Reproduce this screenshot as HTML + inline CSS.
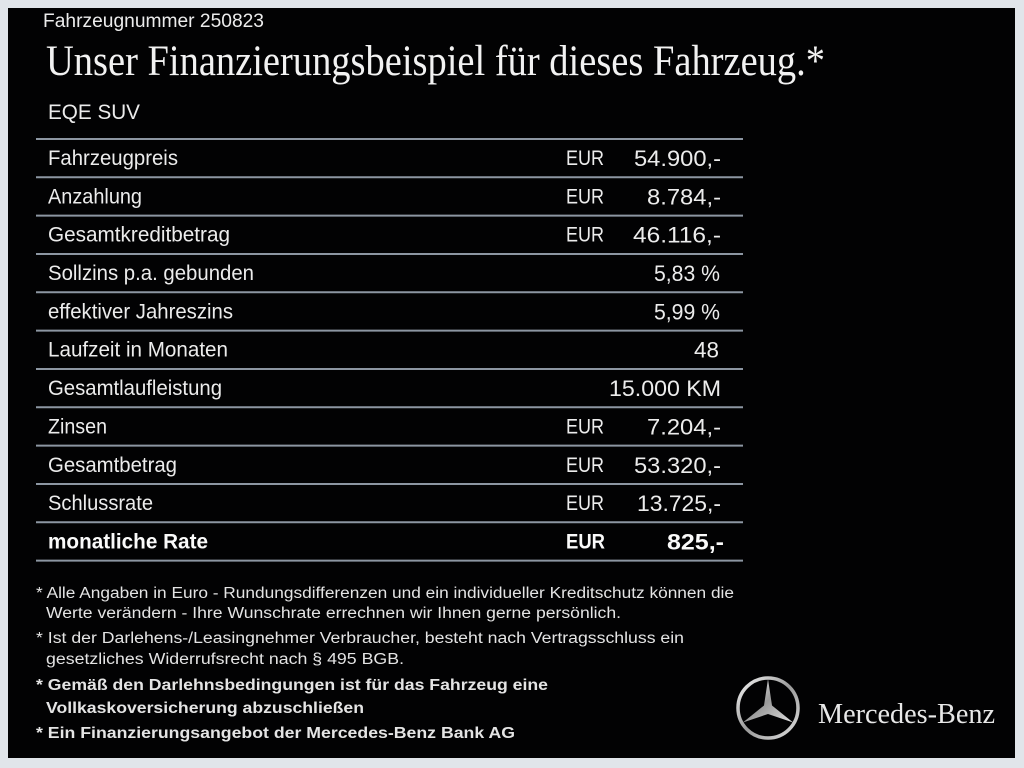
<!DOCTYPE html>
<html><head><meta charset="utf-8"><style>
html,body{margin:0;padding:0;background:#dfe3e8;}
svg{display:block;}
</style></head><body>
<svg width="1024" height="768" viewBox="0 0 1024 768" xmlns="http://www.w3.org/2000/svg">
<defs>
<linearGradient id="silver" x1="0" y1="0" x2="1" y2="1">
<stop offset="0" stop-color="#f4f4f4"/><stop offset="0.5" stop-color="#9a9a9a"/><stop offset="1" stop-color="#e0e0e0"/>
</linearGradient>
</defs>
<rect x="0" y="0" width="1024" height="768" fill="#e1e5ea"/>
<rect x="8" y="8" width="1007" height="750" fill="#020203"/>
<g font-family="Liberation Sans, sans-serif" fill="#ececec">
<text x="43" y="27" font-size="19" textLength="221" lengthAdjust="spacingAndGlyphs">Fahrzeugnummer 250823</text>
<text x="46" y="75" font-family="Liberation Serif, serif" font-size="43" fill="#f2f2f2" textLength="779" lengthAdjust="spacingAndGlyphs">Unser Finanzierungsbeispiel für dieses Fahrzeug.*</text>
<text x="48" y="119" font-size="21" textLength="92" lengthAdjust="spacingAndGlyphs">EQE SUV</text>
</g>
<g stroke="#8c96a2" stroke-width="2">
<line x1="36" y1="139" x2="743" y2="139"/>
<line x1="36" y1="177.3" x2="743" y2="177.3"/>
<line x1="36" y1="215.6" x2="743" y2="215.6"/>
<line x1="36" y1="254" x2="743" y2="254"/>
<line x1="36" y1="292.3" x2="743" y2="292.3"/>
<line x1="36" y1="330.6" x2="743" y2="330.6"/>
<line x1="36" y1="369" x2="743" y2="369"/>
<line x1="36" y1="407.3" x2="743" y2="407.3"/>
<line x1="36" y1="445.6" x2="743" y2="445.6"/>
<line x1="36" y1="484" x2="743" y2="484"/>
<line x1="36" y1="522.3" x2="743" y2="522.3"/>
<line x1="36" y1="560.6" x2="743" y2="560.6"/>
</g>
<g font-family="Liberation Sans, sans-serif" font-size="21" fill="#ececec">
<text x="48" y="165" textLength="130" lengthAdjust="spacingAndGlyphs">Fahrzeugpreis</text>
<text x="48" y="203.3" textLength="94" lengthAdjust="spacingAndGlyphs">Anzahlung</text>
<text x="48" y="241.7" textLength="182" lengthAdjust="spacingAndGlyphs">Gesamtkreditbetrag</text>
<text x="48" y="280" textLength="206" lengthAdjust="spacingAndGlyphs">Sollzins p.a. gebunden</text>
<text x="48" y="318.4" textLength="185" lengthAdjust="spacingAndGlyphs">effektiver Jahreszins</text>
<text x="48" y="356.7" textLength="180" lengthAdjust="spacingAndGlyphs">Laufzeit in Monaten</text>
<text x="48" y="395" textLength="174" lengthAdjust="spacingAndGlyphs">Gesamtlaufleistung</text>
<text x="48" y="433.4" textLength="59" lengthAdjust="spacingAndGlyphs">Zinsen</text>
<text x="48" y="471.8" textLength="129" lengthAdjust="spacingAndGlyphs">Gesamtbetrag</text>
<text x="48" y="510.1" textLength="105" lengthAdjust="spacingAndGlyphs">Schlussrate</text>
<text x="48" y="548.5" font-weight="bold" fill="#fafafa" textLength="160" lengthAdjust="spacingAndGlyphs">monatliche Rate</text>

<text x="566" y="165" textLength="38" lengthAdjust="spacingAndGlyphs">EUR</text>
<text x="566" y="203.3" textLength="38" lengthAdjust="spacingAndGlyphs">EUR</text>
<text x="566" y="241.7" textLength="38" lengthAdjust="spacingAndGlyphs">EUR</text>
<text x="566" y="433.4" textLength="38" lengthAdjust="spacingAndGlyphs">EUR</text>
<text x="566" y="471.8" textLength="38" lengthAdjust="spacingAndGlyphs">EUR</text>
<text x="566" y="510.1" textLength="38" lengthAdjust="spacingAndGlyphs">EUR</text>
<text x="566" y="548.5" font-weight="bold" fill="#fafafa" textLength="39" lengthAdjust="spacingAndGlyphs">EUR</text>
</g>
<g font-family="Liberation Sans, sans-serif" font-size="22.5" fill="#ececec">
<text x="634" y="166" textLength="87" lengthAdjust="spacingAndGlyphs">54.900,-</text>
<text x="647" y="204.3" textLength="74" lengthAdjust="spacingAndGlyphs">8.784,-</text>
<text x="633" y="242.7" textLength="88" lengthAdjust="spacingAndGlyphs">46.116,-</text>
<text x="654" y="281" textLength="66" lengthAdjust="spacingAndGlyphs">5,83 %</text>
<text x="654" y="319.4" textLength="66" lengthAdjust="spacingAndGlyphs">5,99 %</text>
<text x="694" y="357.7" textLength="25" lengthAdjust="spacingAndGlyphs">48</text>
<text x="609" y="396" textLength="112" lengthAdjust="spacingAndGlyphs">15.000 KM</text>
<text x="647" y="434.4" textLength="74" lengthAdjust="spacingAndGlyphs">7.204,-</text>
<text x="634" y="472.8" textLength="87" lengthAdjust="spacingAndGlyphs">53.320,-</text>
<text x="637" y="511.1" textLength="84" lengthAdjust="spacingAndGlyphs">13.725,-</text>
<text x="667" y="549.5" font-weight="bold" fill="#fafafa" textLength="57" lengthAdjust="spacingAndGlyphs">825,-</text>
</g>
<g font-family="Liberation Sans, sans-serif" font-size="15.5" fill="#e4e4e4">
<text x="36" y="598" textLength="698" lengthAdjust="spacingAndGlyphs">* Alle Angaben in Euro - Rundungsdifferenzen und ein individueller Kreditschutz können die</text>
<text x="46" y="618" textLength="575" lengthAdjust="spacingAndGlyphs">Werte verändern - Ihre Wunschrate errechnen wir Ihnen gerne persönlich.</text>
<text x="36" y="643" textLength="648" lengthAdjust="spacingAndGlyphs">* Ist der Darlehens-/Leasingnehmer Verbraucher, besteht nach Vertragsschluss ein</text>
<text x="46" y="664" textLength="358" lengthAdjust="spacingAndGlyphs">gesetzliches  Widerrufsrecht nach § 495 BGB.</text>
<text x="36" y="690" font-weight="bold" textLength="512" lengthAdjust="spacingAndGlyphs">* Gemäß den Darlehnsbedingungen ist für das Fahrzeug eine</text>
<text x="46" y="713" font-weight="bold" textLength="318" lengthAdjust="spacingAndGlyphs">Vollkaskoversicherung abzuschließen</text>
<text x="36" y="738" font-weight="bold" textLength="479" lengthAdjust="spacingAndGlyphs">* Ein Finanzierungsangebot der Mercedes-Benz Bank AG</text>
</g>
<g>
<circle cx="768" cy="708" r="30" fill="none" stroke="url(#silver)" stroke-width="3.5"/>
<polygon points="768,679 772,705.5 793.1,722.5 768,714 742.9,722.5 764,705.5" fill="url(#silver)"/>
</g>
<text x="818" y="723" font-family="Liberation Serif, serif" font-size="29" fill="#e8e8e8" textLength="177" lengthAdjust="spacingAndGlyphs">Mercedes-Benz</text>
</svg>
</body></html>
